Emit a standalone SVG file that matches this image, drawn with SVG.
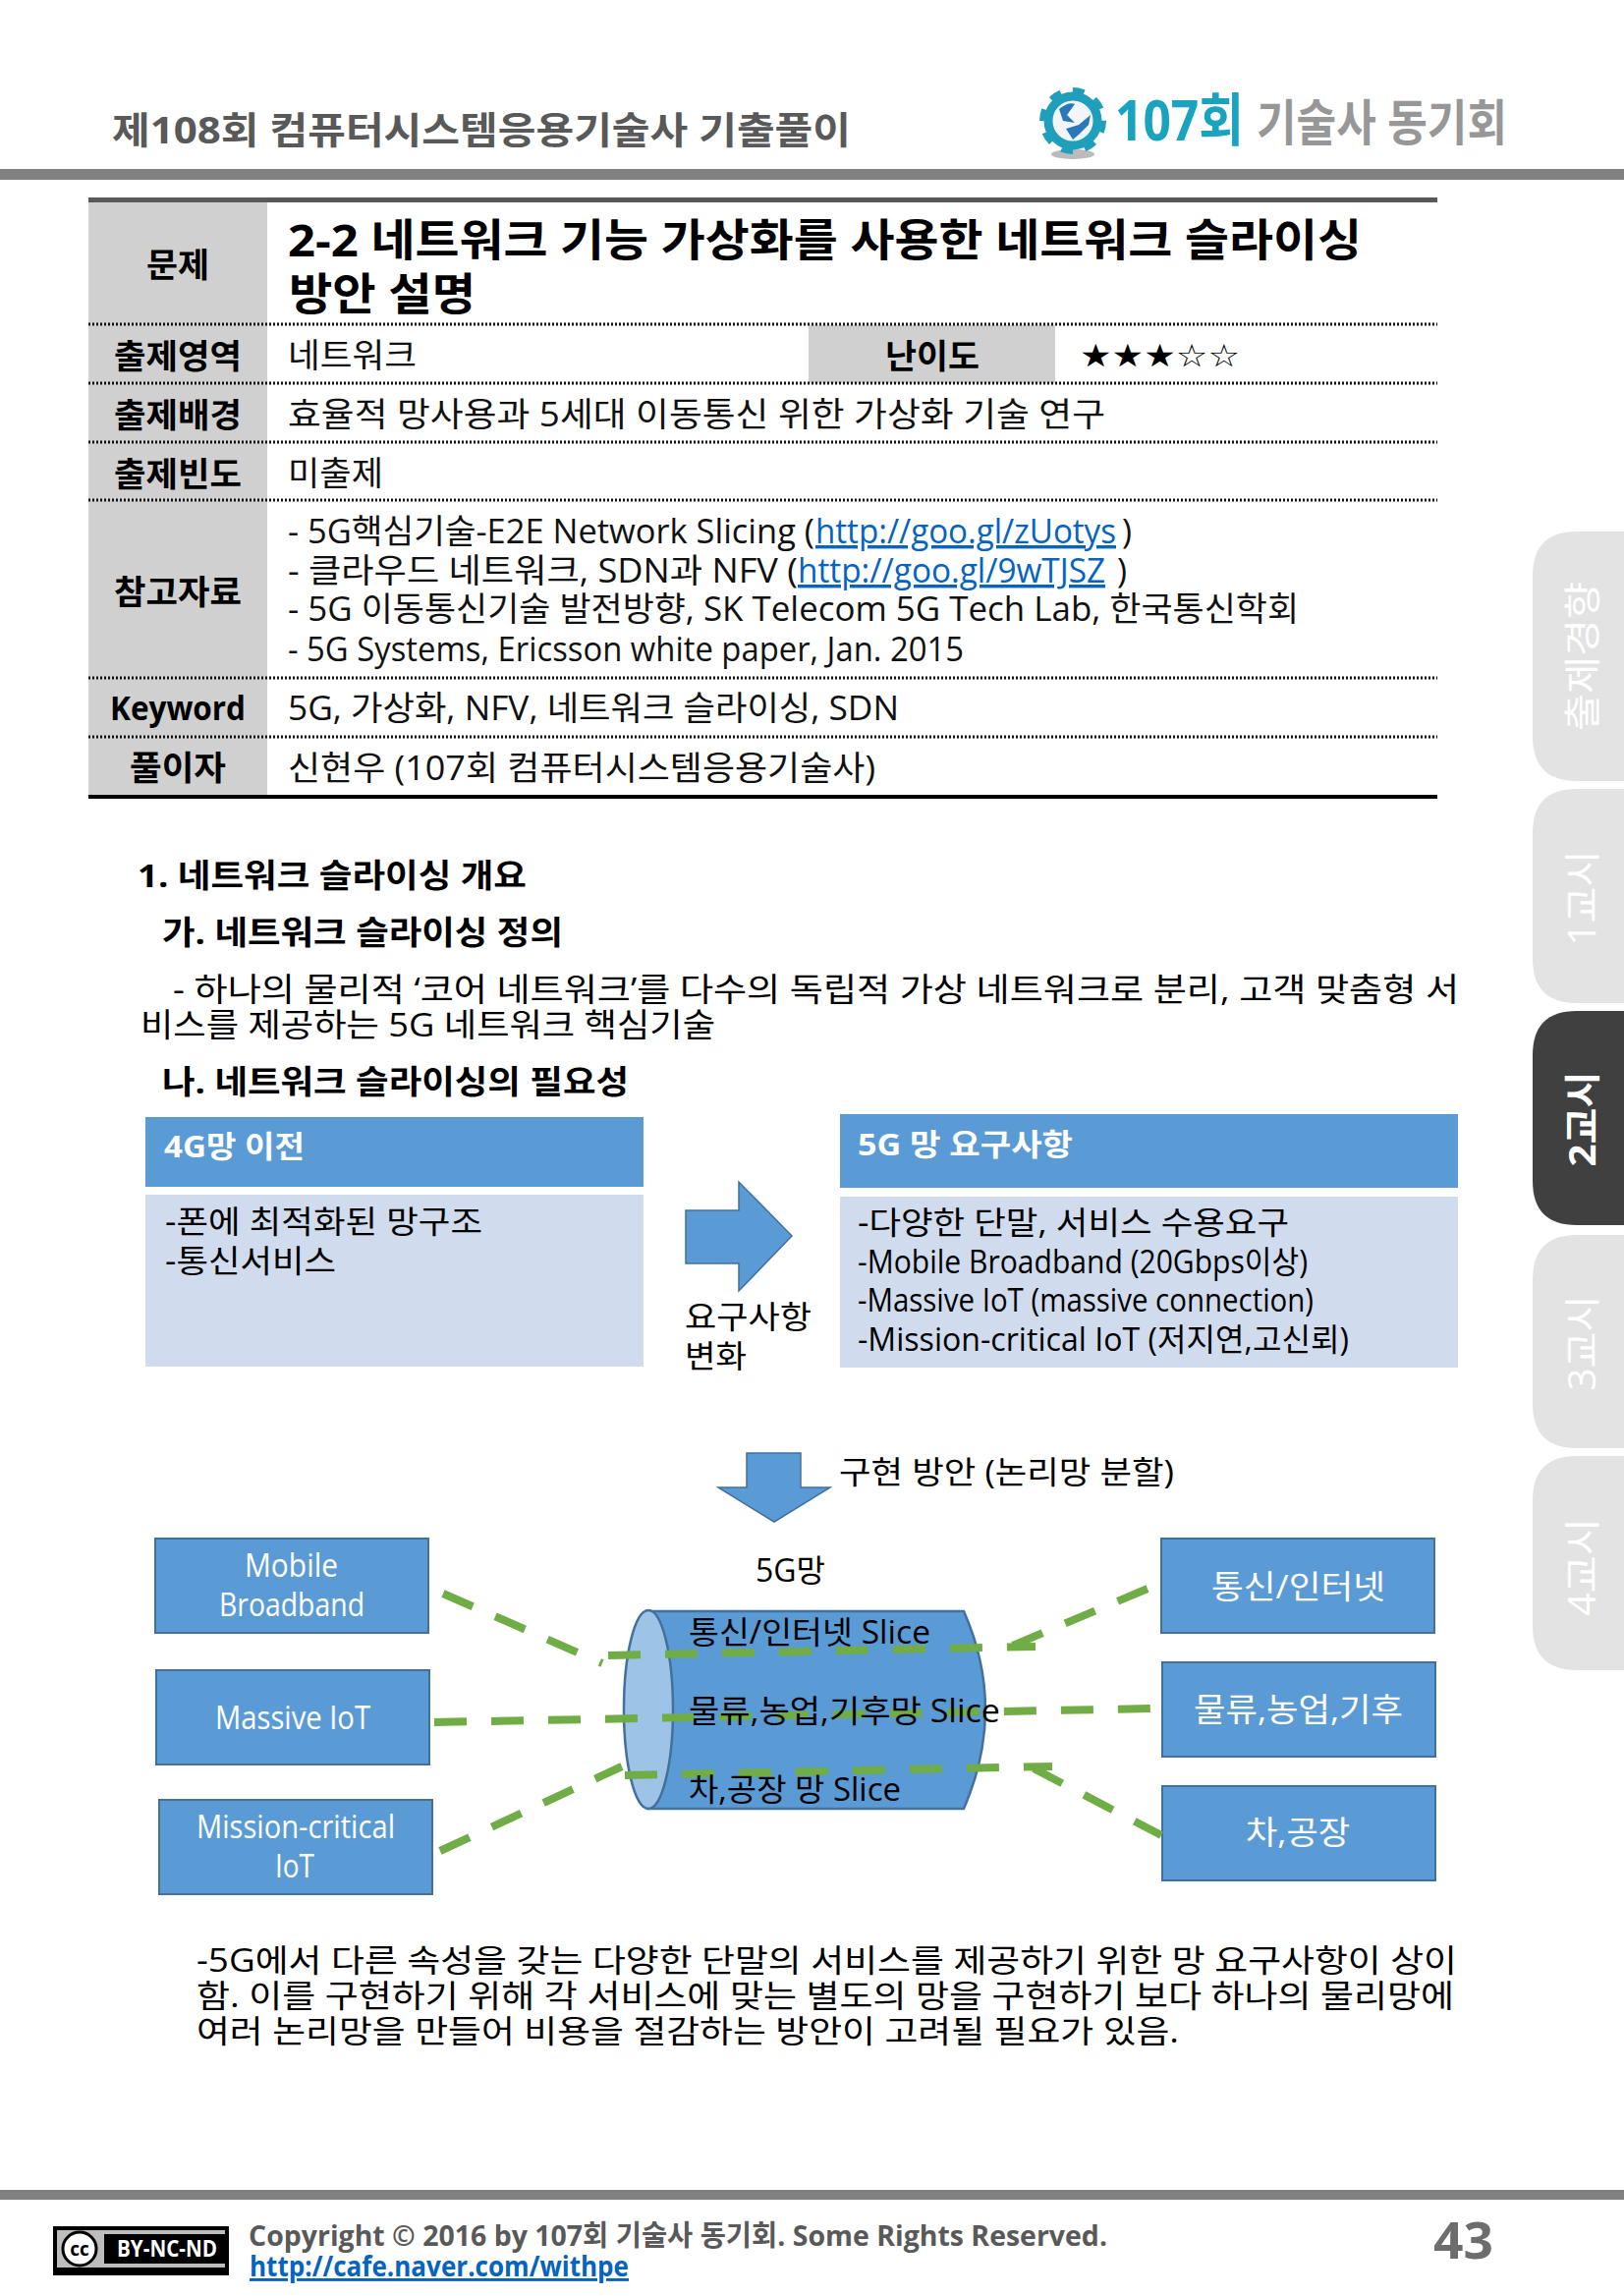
<svg xmlns="http://www.w3.org/2000/svg" width="1653" height="2337" viewBox="0 0 1653 2337">
<style>
text{font-family:"Open Sans","Noto Sans CJK KR",sans-serif;fill:#000}
.b{font-weight:700}
.lab{font-weight:700;font-size:34px;text-anchor:middle}
.val{font-size:34px;fill:#111}
.body{font-size:33px}
.lnk{font-size:34px;fill:#0563c1;text-decoration:underline}
.wh{fill:#fff;font-size:33px}
.hd{fill:#fff;font-weight:700;font-size:31px}
.blk{font-size:32px}
.tab{fill:#fff;font-size:38px;text-anchor:middle}
.gray{fill:#d0d0d0}
.dot{stroke:#111;stroke-width:3;stroke-dasharray:2 2;fill:none}
.box{fill:#5b9bd5;stroke:#41719c;stroke-width:2}
.flat{fill:#5b9bd5}
.light{fill:#d0dcee}
.arr{fill:#5b9bd5;stroke:#41719c;stroke-width:1.5}
.con{fill:none;stroke:#70ad47;stroke-width:8;stroke-dasharray:33 25}
.tb{fill:#e3e3e3}
</style>
<rect width="1653" height="2337" fill="#fff"/>

<g id="header">
<text x="114" y="146" class="b" font-size="38" style="fill:#595959" textLength="752" lengthAdjust="spacingAndGlyphs">제108회 컴퓨터시스템응용기술사 기출풀이</text>
<rect x="0" y="172" width="1653" height="11" fill="#808080"/>
</g>
<g id="logo">
<ellipse cx="1092" cy="157" rx="22" ry="5" fill="#bbb"/>
<circle cx="1092" cy="123" r="25" fill="none" stroke="#1f9fbc" stroke-width="9"/>
<circle cx="1092" cy="123" r="30" fill="none" stroke="#1f9fbc" stroke-width="8" stroke-dasharray="11.5 12"/>
<circle cx="1092" cy="123" r="20" fill="#f3f6f8"/>
<path d="M1078 111 Q1088 103 1094 106 L1086 117 L1094 125 L1082 123 Z M1085 131 L1098 127 L1110 117 L1108 127 L1098 137 L1092 142 Z" fill="#2a77bd"/>
<text x="1135" y="143" class="b" font-size="58" style="fill:#18a3bf" textLength="131" lengthAdjust="spacingAndGlyphs">107회</text>
<text x="1279" y="143" font-size="50" class="b" style="fill:#979797" textLength="255" lengthAdjust="spacingAndGlyphs">기술사 동기회</text>
</g>

<g id="tabs">
<path class="tb" d="M1653 541H1605Q1560 541 1560 586V750Q1560 795 1605 795H1653Z"/>
<path class="tb" d="M1653 803H1605Q1560 803 1560 848V976Q1560 1021 1605 1021H1653Z"/>
<path fill="#404040" d="M1653 1029H1605Q1560 1029 1560 1074V1202Q1560 1247 1605 1247H1653Z"/>
<path class="tb" d="M1653 1257H1605Q1560 1257 1560 1302V1429Q1560 1474 1605 1474H1653Z"/>
<path class="tb" d="M1653 1482H1605Q1560 1482 1560 1527V1655Q1560 1700 1605 1700H1653Z"/>
<text class="tab" transform="translate(1624 668) rotate(-90)" textLength="152" lengthAdjust="spacingAndGlyphs">출제경향</text>
<text class="tab" transform="translate(1624 914) rotate(-90)" textLength="97" lengthAdjust="spacingAndGlyphs">1교시</text>
<text class="tab b" transform="translate(1624 1139) rotate(-90)" textLength="97" lengthAdjust="spacingAndGlyphs">2교시</text>
<text class="tab" transform="translate(1624 1367) rotate(-90)" textLength="97" lengthAdjust="spacingAndGlyphs">3교시</text>
<text class="tab" transform="translate(1624 1595) rotate(-90)" textLength="100" lengthAdjust="spacingAndGlyphs">4교시</text>
</g>

<g id="table">
<rect class="gray" x="90" y="204" width="182" height="605"/>
<rect class="gray" x="823" y="331" width="251" height="59"/>
<rect x="90" y="201" width="1373" height="5" fill="#595959"/>
<line class="dot" x1="90" y1="330" x2="1463" y2="330"/>
<line class="dot" x1="90" y1="390" x2="1463" y2="390"/>
<line class="dot" x1="90" y1="450" x2="1463" y2="450"/>
<line class="dot" x1="90" y1="509" x2="1463" y2="509"/>
<line class="dot" x1="90" y1="690" x2="1463" y2="690"/>
<line class="dot" x1="90" y1="750" x2="1463" y2="750"/>
<rect x="90" y="809" width="1373" height="4" fill="#000"/>
<text class="lab" x="181" y="282" textLength="64" lengthAdjust="spacingAndGlyphs">문제</text>
<text class="b" x="293" y="261" font-size="45" textLength="1093" lengthAdjust="spacingAndGlyphs">2-2 네트워크 기능 가상화를 사용한 네트워크 슬라이싱</text>
<text class="b" x="294" y="316" font-size="45" textLength="190" lengthAdjust="spacingAndGlyphs">방안 설명</text>
<text class="lab" x="181" y="375" textLength="130" lengthAdjust="spacingAndGlyphs">출제영역</text>
<text class="val" x="293" y="374" textLength="131" lengthAdjust="spacingAndGlyphs">네트워크</text>
<text class="lab" x="949" y="375" textLength="96" lengthAdjust="spacingAndGlyphs">난이도</text>
<text x="1099" y="373" font-size="32" style="font-family:'DejaVu Sans',sans-serif" textLength="163" lengthAdjust="spacingAndGlyphs">★★★☆☆</text>
<text class="lab" x="181" y="435" textLength="130" lengthAdjust="spacingAndGlyphs">출제배경</text>
<text class="val" x="293" y="434" textLength="832" lengthAdjust="spacingAndGlyphs">효율적 망사용과 5세대 이동통신 위한 가상화 기술 연구</text>
<text class="lab" x="181" y="495" textLength="130" lengthAdjust="spacingAndGlyphs">출제빈도</text>
<text class="val" x="293" y="494" textLength="97" lengthAdjust="spacingAndGlyphs">미출제</text>
<text class="lab" x="181" y="615" textLength="130" lengthAdjust="spacingAndGlyphs">참고자료</text>
<text class="val" x="293" y="553" textLength="536" lengthAdjust="spacingAndGlyphs">- 5G핵심기술-E2E Network Slicing (</text>
<text class="lnk" x="830" y="553" textLength="306" lengthAdjust="spacingAndGlyphs">http://goo.gl/zUotys</text>
<text class="val" x="1142" y="553">)</text>
<text class="val" x="293" y="593" textLength="519" lengthAdjust="spacingAndGlyphs">- 클라우드 네트워크, SDN과 NFV (</text>
<text class="lnk" x="812" y="593" textLength="313" lengthAdjust="spacingAndGlyphs">http://goo.gl/9wTJSZ</text>
<text class="val" x="1137" y="593">)</text>
<text class="val" x="293" y="632" textLength="1029" lengthAdjust="spacingAndGlyphs">- 5G 이동통신기술 발전방향, SK Telecom 5G Tech Lab, 한국통신학회</text>
<text class="val" x="293" y="673" textLength="688" lengthAdjust="spacingAndGlyphs">- 5G Systems, Ericsson white paper, Jan. 2015</text>
<text class="lab" x="181" y="733" textLength="138" lengthAdjust="spacingAndGlyphs">Keyword</text>
<text class="val" x="293" y="733" textLength="622" lengthAdjust="spacingAndGlyphs">5G, 가상화, NFV, 네트워크 슬라이싱, SDN</text>
<text class="lab" x="181" y="794" textLength="98" lengthAdjust="spacingAndGlyphs">풀이자</text>
<text class="val" x="293" y="794" textLength="598" lengthAdjust="spacingAndGlyphs">신현우 (107회 컴퓨터시스템응용기술사)</text>
</g>

<g id="body-text">
<text class="b" x="140" y="903" font-size="33" textLength="396" lengthAdjust="spacingAndGlyphs">1. 네트워크 슬라이싱 개요</text>
<text class="b" x="165" y="961" font-size="33" textLength="408" lengthAdjust="spacingAndGlyphs">가. 네트워크 슬라이싱 정의</text>
<text class="body" x="176" y="1019" textLength="1309" lengthAdjust="spacingAndGlyphs">- 하나의 물리적 ‘코어 네트워크’를 다수의 독립적 가상 네트워크로 분리, 고객 맞춤형 서</text>
<text class="body" x="143" y="1055" textLength="585" lengthAdjust="spacingAndGlyphs">비스를 제공하는 5G 네트워크 핵심기술</text>
<text class="b" x="165" y="1113" font-size="33" textLength="475" lengthAdjust="spacingAndGlyphs">나. 네트워크 슬라이싱의 필요성</text>
</g>

<g id="panel-4g">
<rect class="flat" x="148" y="1137" width="507" height="71"/>
<rect class="light" x="148" y="1216" width="507" height="175"/>
<text class="hd" x="167" y="1178" textLength="143" lengthAdjust="spacingAndGlyphs">4G망 이전</text>
<text class="blk" x="168" y="1255" textLength="323" lengthAdjust="spacingAndGlyphs">-폰에 최적화된 망구조</text>
<text class="blk" x="168" y="1295" textLength="174" lengthAdjust="spacingAndGlyphs">-통신서비스</text>
</g>
<g id="arrow-right">
<path class="arr" d="M698 1232H752V1203L806 1258L752 1314V1286H698Z"/>
<text class="blk" x="697" y="1352" textLength="129" lengthAdjust="spacingAndGlyphs">요구사항</text>
<text class="blk" x="697" y="1392" textLength="63" lengthAdjust="spacingAndGlyphs">변화</text>
</g>
<g id="panel-5g">
<rect class="flat" x="855" y="1134" width="629" height="75"/>
<rect class="light" x="855" y="1218" width="629" height="174"/>
<text class="hd" x="873" y="1176" textLength="219" lengthAdjust="spacingAndGlyphs">5G 망 요구사항</text>
<text class="blk" x="873" y="1256" textLength="439" lengthAdjust="spacingAndGlyphs">-다양한 단말, 서비스 수용요구</text>
<text class="blk" x="873" y="1296" textLength="458" lengthAdjust="spacingAndGlyphs">-Mobile Broadband (20Gbps이상)</text>
<text class="blk" x="873" y="1335" textLength="464" lengthAdjust="spacingAndGlyphs">-Massive IoT (massive connection)</text>
<text class="blk" x="873" y="1375" textLength="500" lengthAdjust="spacingAndGlyphs">-Mission-critical IoT (저지연,고신뢰)</text>
</g>
<g id="arrow-down">
<path class="arr" d="M760 1479H815V1514H845L788 1549L731 1514H760Z"/>
<text class="blk" x="854" y="1510" textLength="341" lengthAdjust="spacingAndGlyphs">구현 방안 (논리망 분할)</text>
</g>
<text class="blk" x="769" y="1610" textLength="71" lengthAdjust="spacingAndGlyphs">5G망</text>

<g id="node-mobile"><rect class="box" x="158" y="1566" width="278" height="96"/><text class="wh" x="249" y="1605" textLength="95" lengthAdjust="spacingAndGlyphs">Mobile</text><text class="wh" x="223" y="1645" textLength="148" lengthAdjust="spacingAndGlyphs">Broadband</text></g>
<g id="node-massive"><rect class="box" x="159" y="1700" width="278" height="96"/><text class="wh" x="219" y="1760" textLength="158" lengthAdjust="spacingAndGlyphs">Massive IoT</text></g>
<g id="node-mission"><rect class="box" x="162" y="1832" width="278" height="96"/><text class="wh" x="200" y="1871" textLength="202" lengthAdjust="spacingAndGlyphs">Mission-critical</text><text class="wh" x="280" y="1911" textLength="40" lengthAdjust="spacingAndGlyphs">IoT</text></g>
<g id="node-telecom"><rect class="box" x="1182" y="1566" width="278" height="96"/><text class="wh" x="1233" y="1627" textLength="177" lengthAdjust="spacingAndGlyphs">통신/인터넷</text></g>
<g id="node-logistics"><rect class="box" x="1183" y="1692" width="278" height="96"/><text class="wh" x="1215" y="1752" textLength="213" lengthAdjust="spacingAndGlyphs">물류,농업,기후</text></g>
<g id="node-car"><rect class="box" x="1183" y="1818" width="278" height="96"/><text class="wh" x="1268" y="1877" textLength="106" lengthAdjust="spacingAndGlyphs">차,공장</text></g>

<g id="node-cylinder">
<path d="M660 1640H981Q1003 1690 1003 1740Q1003 1790 981 1841H660Z" fill="#5b9bd5" stroke="#41719c" stroke-width="2.5"/>
<ellipse cx="660" cy="1740" rx="25" ry="101" fill="#9dc3e6" stroke="#41719c" stroke-width="2.5"/>
</g>

<g id="connectors">
<line class="con" x1="451" y1="1622" x2="613" y2="1693"/>
<line class="con" x1="442" y1="1753" x2="1173" y2="1739"/>
<line class="con" x1="448" y1="1884" x2="633" y2="1798"/>
<line class="con" x1="619" y1="1685" x2="1054" y2="1676"/>
<line class="con" x1="1168" y1="1617" x2="1026" y2="1677"/>
<line class="con" x1="636" y1="1807" x2="1071" y2="1798"/>
<line class="con" x1="1052" y1="1800" x2="1182" y2="1868"/>
</g>

<g id="cylinder-labels">
<text class="blk" x="701" y="1673" textLength="246" lengthAdjust="spacingAndGlyphs">통신/인터넷 Slice</text>
<text class="blk" x="701" y="1753" textLength="317" lengthAdjust="spacingAndGlyphs">물류,농업,기후망 Slice</text>
<text class="blk" x="701" y="1833" textLength="216" lengthAdjust="spacingAndGlyphs">차,공장 망 Slice</text>
</g>

<g id="summary">
<text class="blk" x="200" y="2007" textLength="1283" lengthAdjust="spacingAndGlyphs">-5G에서 다른 속성을 갖는 다양한 단말의 서비스를 제공하기 위한 망 요구사항이 상이</text>
<text class="blk" x="200" y="2043" textLength="1280" lengthAdjust="spacingAndGlyphs">함. 이를 구현하기 위해 각 서비스에 맞는 별도의 망을 구현하기 보다 하나의 물리망에</text>
<text class="blk" x="200" y="2079" textLength="1000" lengthAdjust="spacingAndGlyphs">여러 논리망을 만들어 비용을 절감하는 방안이 고려될 필요가 있음.</text>
</g>

<g id="footer">
<rect x="0" y="2229" width="1653" height="10" fill="#808080"/>
<g id="cc-badge">
<rect x="54" y="2266" width="179" height="50" fill="#000"/>
<rect x="58" y="2270" width="171" height="38" fill="#bdbdbd"/>
<rect x="106" y="2274" width="123" height="30" fill="#000"/>
<circle cx="81" cy="2289" r="17" fill="#fff" stroke="#000" stroke-width="3"/>
<text x="81" y="2296" font-size="19" class="b" text-anchor="middle">cc</text>
<text x="170" y="2297" font-size="24" class="b" style="fill:#fff" text-anchor="middle" textLength="102" lengthAdjust="spacingAndGlyphs">BY-NC-ND</text>
</g>
<text class="b" x="253" y="2286" font-size="29" style="fill:#595959" textLength="874" lengthAdjust="spacingAndGlyphs">Copyright © 2016 by 107회 기술사 동기회. Some Rights Reserved.</text>
<text class="b" x="254" y="2317" font-size="29" style="fill:#0563c1;text-decoration:underline" textLength="386" lengthAdjust="spacingAndGlyphs">http://cafe.naver.com/withpe</text>
<text class="b" x="1459" y="2299" font-size="52" style="fill:#6d6d6d" textLength="61" lengthAdjust="spacingAndGlyphs">43</text>
</g>
</svg>
